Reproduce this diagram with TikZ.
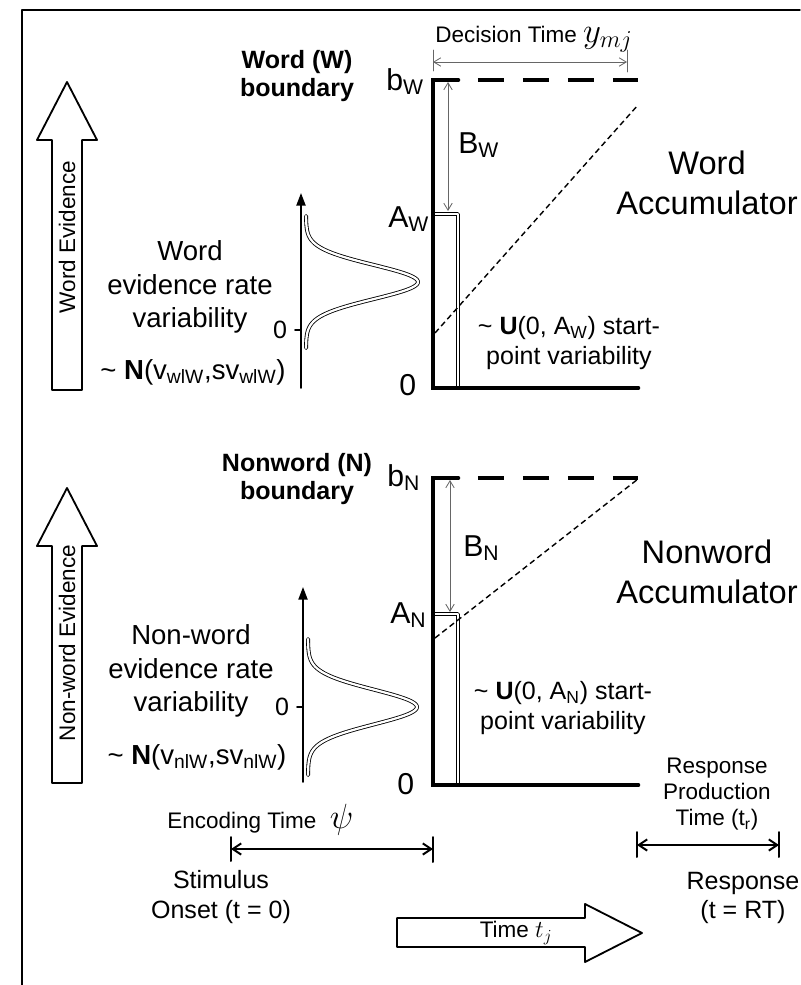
\documentclass[tikz,border=0pt]{standalone}
\usepackage{fontspec}
\setmainfont{Liberation Sans}
\usetikzlibrary{arrows.meta}

\tikzset{
  frame/.style={line width=1pt},
  evidarrow/.style={line width=1.3pt, fill=white},
  axisline/.style={line width=3.3pt, line join=miter},
  boundline/.style={line width=3.3pt, line cap=butt, dash pattern=on 18.5pt off 13.5pt},
  trajline/.style={line width=1pt, line cap=butt, dash pattern=on 4pt off 2.6pt},
  startbar/.style={double, line width=0.6pt, double distance=1.5pt, line cap=butt},
  gausscurve/.style={double, line width=0.6pt, double distance=1.6pt},
  gapthin/.style={black!60, line width=0.6pt, {Straight Barb[length=5pt,width=6pt]}-{Straight Barb[length=5pt,width=6pt]}},
  gapthick/.style={line width=1.4pt, {Straight Barb[length=6pt,width=8pt]}-{Straight Barb[length=6pt,width=8pt]}},
  txtsmall/.style={font=\fontsize{16}{18.5}\selectfont},
  txtmid/.style={font=\fontsize{17.8}{21}\selectfont},
  txtrate/.style={font=\fontsize{19.6}{24}\selectfont},
  txtbig/.style={font=\fontsize{23.2}{28.5}\selectfont},
  txtbold/.style={font=\fontsize{17.8}{20}\selectfont\bfseries},
  txtsym/.style={font=\fontsize{21.5}{21.5}\selectfont, anchor=base west, inner sep=0pt}
}

\begin{document}
\begin{tikzpicture}[x=0.25mm, y=-0.25mm, line cap=round, line join=round]
\useasboundingbox (0,0) rectangle (800,985);
% frame
\draw[frame] (800,10) -- (22,10) -- (22,985);

% evidence arrows
\draw[evidarrow] (52,390) -- (52,140) -- (37,140) -- (67,82) -- (97,140) -- (82,140) -- (82,390) -- cycle;
\node[txtsmall, rotate=90] (wevid) at (67,237) {Word Evidence};
\draw[evidarrow] (52,783) -- (52,546) -- (37,546) -- (67,488) -- (97,546) -- (82,546) -- (82,783) -- cycle;
\node[txtsmall, rotate=90] (nevid) at (67,643) {Non-word Evidence};

% word accumulator
\coordinate (wtop) at (433,80);
\coordinate (wtopr) at (638,80);
\coordinate (wzero) at (433,388);
\coordinate (wright) at (638,388);
\coordinate (wA) at (433,214);
\draw[startbar] (wA) -- (458,214) -- (458,388);
\draw[boundline] (wtop) -- (wtopr);
\draw[axisline] (458,80) -- (wtop) -- (wzero) -- (wright);
\draw[trajline] (435,333) -- (638,105);
\coordinate (wBtop) at (448,82);
\coordinate (wBbot) at (448,211);
\draw[gapthin] (wBtop) -- (wBbot);
\node[txtsym] (wbsym) at (386,90) {b\textsubscript{W}};
\node[txtsym] (wasym) at (388,227) {A\textsubscript{W}};
\node[txtsym] (wBsym) at (458,153) {B\textsubscript{W}};
\node[txtsym] (wzsym) at (399,395) {0};
\node[txtbold, align=center] (wbound) at (297,76) {Word (W)\\boundary};
\node[txtbig, align=center] (wacc) at (707,183) {Word\\Accumulator};
\node[txtmid, align=center] (wunif) at (569,343) {\textasciitilde\ \textbf{U}(0, A\textsubscript{W}) start-\\point variability};

% decision time
\coordinate (dtl) at (433,62);
\coordinate (dtr) at (627,62);
\draw[gapthin] (dtl) -- (dtr);
\draw[black!60, line width=0.6pt] (433,50) -- (433,71) (627,50) -- (627,72);
\node[txtsmall, anchor=base west, inner sep=0pt] (dectime) at (435,42) {Decision Time {\fontsize{23}{23}\selectfont$y_{mj}$}};

% word rate distribution
\coordinate (wax0) at (301,388);
\coordinate (wax1) at (301,193);
\draw[line width=1.2pt, -{Triangle[length=9pt,width=6.5pt]}] (wax0) -- (wax1);
\draw[line width=1.2pt] (295,330) -- (301,330);
\node[txtmid] (wrzero) at (280,330) {0};
\draw[gausscurve] plot[domain=-66:66, samples=80, smooth] ({306+112*exp(-(\x*\x)/578)}, {282+\x});
\node[txtrate, align=center] (wrate) at (190,287) {Word\\evidence rate\\variability};
\node[txtrate] (wnorm) at (193,372) {\textasciitilde\ \textbf{N}(v\textsubscript{wlW},sv\textsubscript{wlW})};

% nonword accumulator
\coordinate (ntop) at (433,478);
\coordinate (ntopr) at (638,478);
\coordinate (nzero) at (433,785);
\coordinate (nright) at (638,785);
\coordinate (nA) at (433,614);
\draw[startbar] (nA) -- (458,614) -- (458,785);
\draw[boundline] (ntop) -- (ntopr);
\draw[axisline] (458,478) -- (ntop) -- (nzero) -- (nright);
\draw[trajline] (435,638) -- (638,479);
\coordinate (nBtop) at (450,480);
\coordinate (nBbot) at (450,612);
\draw[gapthin] (nBtop) -- (nBbot);
\node[txtsym] (nbsym) at (387,486) {b\textsubscript{N}};
\node[txtsym] (nasym) at (390,623) {A\textsubscript{N}};
\node[txtsym] (nBsym) at (463,556) {B\textsubscript{N}};
\node[txtsym] (nzsym) at (397,794) {0};
\node[txtbold, align=center] (nbound) at (297,479) {Nonword (N)\\boundary};
\node[txtbig, align=center] (nacc) at (707,572) {Nonword\\Accumulator};
\node[txtmid, align=center] (nunif) at (563,708) {\textasciitilde\ \textbf{U}(0, A\textsubscript{N}) start-\\point variability};

% nonword rate distribution
\coordinate (nax0) at (303,782);
\coordinate (nax1) at (303,587);
\draw[line width=1.2pt, -{Triangle[length=9pt,width=6.5pt]}] (nax0) -- (nax1);
\draw[line width=1.2pt] (297,707) -- (303,707);
\node[txtmid] (nrzero) at (282,707) {0};
\draw[gausscurve] plot[domain=-68:68, samples=80, smooth] ({308+109*exp(-(\x*\x)/600)}, {707+\x});
\node[txtrate, align=center] (nrate) at (191,671) {Non-word\\evidence rate\\variability};
\node[txtrate] (nnorm) at (197,757) {\textasciitilde\ \textbf{N}(v\textsubscript{nlW},sv\textsubscript{nlW})};

% time line
\coordinate (encl) at (231,849);
\coordinate (encr) at (433,849);
\draw[gapthick] (encl) -- (encr);
\draw[line width=1.4pt] (231,837) -- (231,861) (433,837) -- (433,862);
\node[txtsmall, anchor=base west, inner sep=0pt] (enctime) at (167,828) {Encoding Time\hspace{0.6em}{\fontsize{23}{23}\selectfont$\psi$}};
\node[txtmid, align=center] (onset) at (221,897) {Stimulus\\Onset (t = 0)};
\coordinate (rpl) at (637,845);
\coordinate (rpr) at (779,845);
\draw[gapthick] (rpl) -- (rpr);
\draw[line width=1.4pt] (637,832) -- (637,857) (779,832) -- (779,857);
\node[txtsmall, align=center] (rptime) at (717,794) {Response\\Production\\Time (t\textsubscript{r})};
\node[txtmid, align=center] (resp) at (743,898) {Response\\(t = RT)};
\draw[evidarrow] (397,918) -- (585,918) -- (585,904) -- (642,933) -- (585,962) -- (585,947) -- (397,947) -- cycle;
\node[txtsmall] (timelbl) at (516,933) {Time {\fontsize{18}{18}\selectfont$t_j$}};
\end{tikzpicture}
\end{document}
